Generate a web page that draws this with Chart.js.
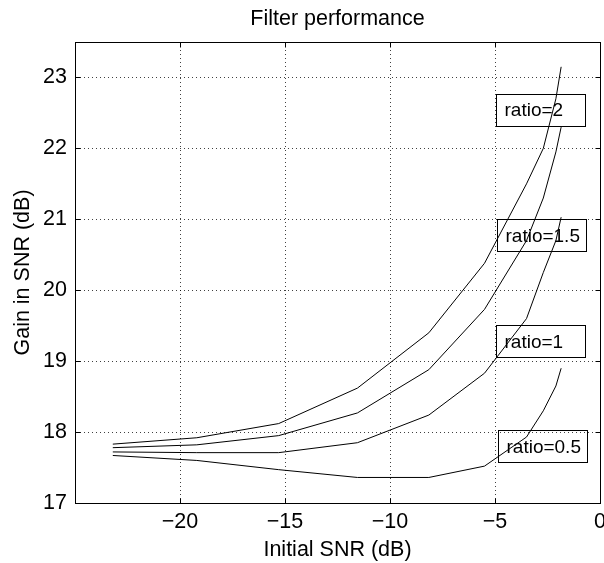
<!DOCTYPE html>
<html>
<head>
<meta charset="utf-8">
<title>Filter performance</title>
<script src="https://cdn.jsdelivr.net/npm/chart.js@4.4.1/dist/chart.umd.min.js"></script>
<style>
  html, body { margin: 0; padding: 0; background: #fff; }
  #wrap { width: 604px; height: 563px; }
</style>
</head>
<body>
<div id="wrap"><canvas id="filterChart" width="604" height="563"></canvas></div>
<script>
// Initial SNR (dB) where the curves were sampled
const initialSnr = [-23.2, -19.2, -15.3, -11.55, -8.15, -5.5, -3.5, -2.7, -2.1, -1.85];

// Gain in SNR (dB), one array per ratio
const gainRatio2   = [17.83, 17.92, 18.12, 18.62, 19.40, 20.38, 21.50, 22.00, 22.70, 23.15];
const gainRatio1_5 = [17.78, 17.82, 17.95, 18.27, 18.88, 19.73, 20.70, 21.30, 21.95, 22.30];
const gainRatio1   = [17.72, 17.71, 17.71, 17.85, 18.24, 18.83, 19.60, 20.25, 20.70, 21.03];
const gainRatio0_5 = [17.67, 17.60, 17.47, 17.36, 17.36, 17.52, 17.93, 18.30, 18.65, 18.90];

const seriesLabels = ['ratio=2', 'ratio=1.5', 'ratio=1', 'ratio=0.5'];

const xTicks = [-20, -15, -10, -5, 0];
const yTicks = [17, 18, 19, 20, 21, 22, 23];

// where the text boxes sit, in data units (left edge, vertical centre)
const labelX = [-4.93, -4.89, -4.93, -4.82];
const labelY = [22.54, 20.77, 19.28, 17.79];

const FONT = '"Liberation Sans", Arial, Helvetica, sans-serif';
const minus = v => String(v).replace('-', '\u2212');
const align = p => Math.round(p - 0.5) + 0.5;

// box around the axes, inward ticks and the text labels
const matlabAxes = {
    id: 'matlabAxes',
    afterDraw(chart) {
        const { ctx, chartArea: a, scales: { x, y } } = chart;
        const l = align(a.left), r = align(a.right), t = align(a.top), b = align(a.bottom);
        ctx.save();
        ctx.strokeStyle = '#000';
        ctx.lineWidth = 1;
        ctx.setLineDash([]);
        ctx.strokeRect(l, t, r - l, b - t);

        ctx.beginPath();
        xTicks.forEach(v => {
            const px = align(x.getPixelForValue(v));
            ctx.moveTo(px, b); ctx.lineTo(px, b - 5);
            ctx.moveTo(px, t); ctx.lineTo(px, t + 5);
        });
        yTicks.forEach(v => {
            const py = align(y.getPixelForValue(v));
            ctx.moveTo(l, py); ctx.lineTo(l + 5, py);
            ctx.moveTo(r, py); ctx.lineTo(r - 5, py);
        });
        ctx.stroke();

        ctx.font = '19px ' + FONT;
        ctx.fillStyle = '#000';
        ctx.textBaseline = 'middle';
        ctx.textAlign = 'left';
        seriesLabels.forEach((text, i) => {
            const bx = align(x.getPixelForValue(labelX[i]));
            const by = y.getPixelForValue(labelY[i]);
            ctx.strokeRect(bx, align(by - 16), 89, 32);
            ctx.fillText(text, bx + 8, by + 1);
        });
        ctx.restore();
    }
};

const datasets = [gainRatio2, gainRatio1_5, gainRatio1, gainRatio0_5].map((values, i) => ({
    label: seriesLabels[i],
    data: initialSnr.map((snr, j) => ({ x: snr, y: values[j] })),
    borderColor: '#000',
    borderWidth: 1,
    pointRadius: 0,
    tension: 0,
    fill: false
}));

const tickFont = { family: FONT, size: 21.5 };

new Chart(document.getElementById('filterChart').getContext('2d'), {
    type: 'line',
    data: { datasets },
    options: {
        responsive: false,
        animation: false,
        devicePixelRatio: 1,
        layout: { padding: { left: 0, right: 4, top: 0, bottom: 0 } },
        plugins: {
            legend: { display: false },
            tooltip: { enabled: false },
            title: {
                display: true,
                text: 'Filter performance',
                fullSize: false,
                color: '#000',
                font: { family: FONT, size: 21.5, weight: 'normal' },
                padding: { top: 6, bottom: 10.2 }
            }
        },
        scales: {
            x: {
                type: 'linear',
                min: -25,
                max: 0,
                afterBuildTicks: s => { s.ticks = xTicks.map(v => ({ value: v })); },
                afterFit: s => { s.height = 60; s.paddingLeft = 0; s.paddingRight = 0; },
                grid: { color: 'rgba(0,0,0,0.75)', lineWidth: 1, drawTicks: false },
                border: { display: true, color: '#000', width: 1, dash: [1, 3] },
                ticks: { color: '#000', font: tickFont, padding: 6, autoSkip: false, maxRotation: 0, callback: v => minus(v) },
                title: {
                    display: true,
                    text: 'Initial SNR (dB)',
                    color: '#000',
                    font: tickFont,
                    padding: { top: 0, bottom: 0 }
                }
            },
            y: {
                type: 'linear',
                min: 17,
                max: 23.5,
                afterBuildTicks: s => { s.ticks = yTicks.map(v => ({ value: v })); },
                afterFit: s => { s.width = 75; s.paddingTop = 0; s.paddingBottom = 0; },
                grid: { color: 'rgba(0,0,0,0.75)', lineWidth: 1, drawTicks: false },
                border: { display: true, color: '#000', width: 1, dash: [1, 3] },
                ticks: { color: '#000', font: tickFont, padding: 8, autoSkip: false, callback: v => minus(v) },
                title: {
                    display: true,
                    text: 'Gain in SNR (dB)',
                    color: '#000',
                    font: tickFont,
                    padding: { top: 10.6, bottom: 0 }
                }
            }
        }
    },
    plugins: [matlabAxes]
});
</script>
</body>
</html>
